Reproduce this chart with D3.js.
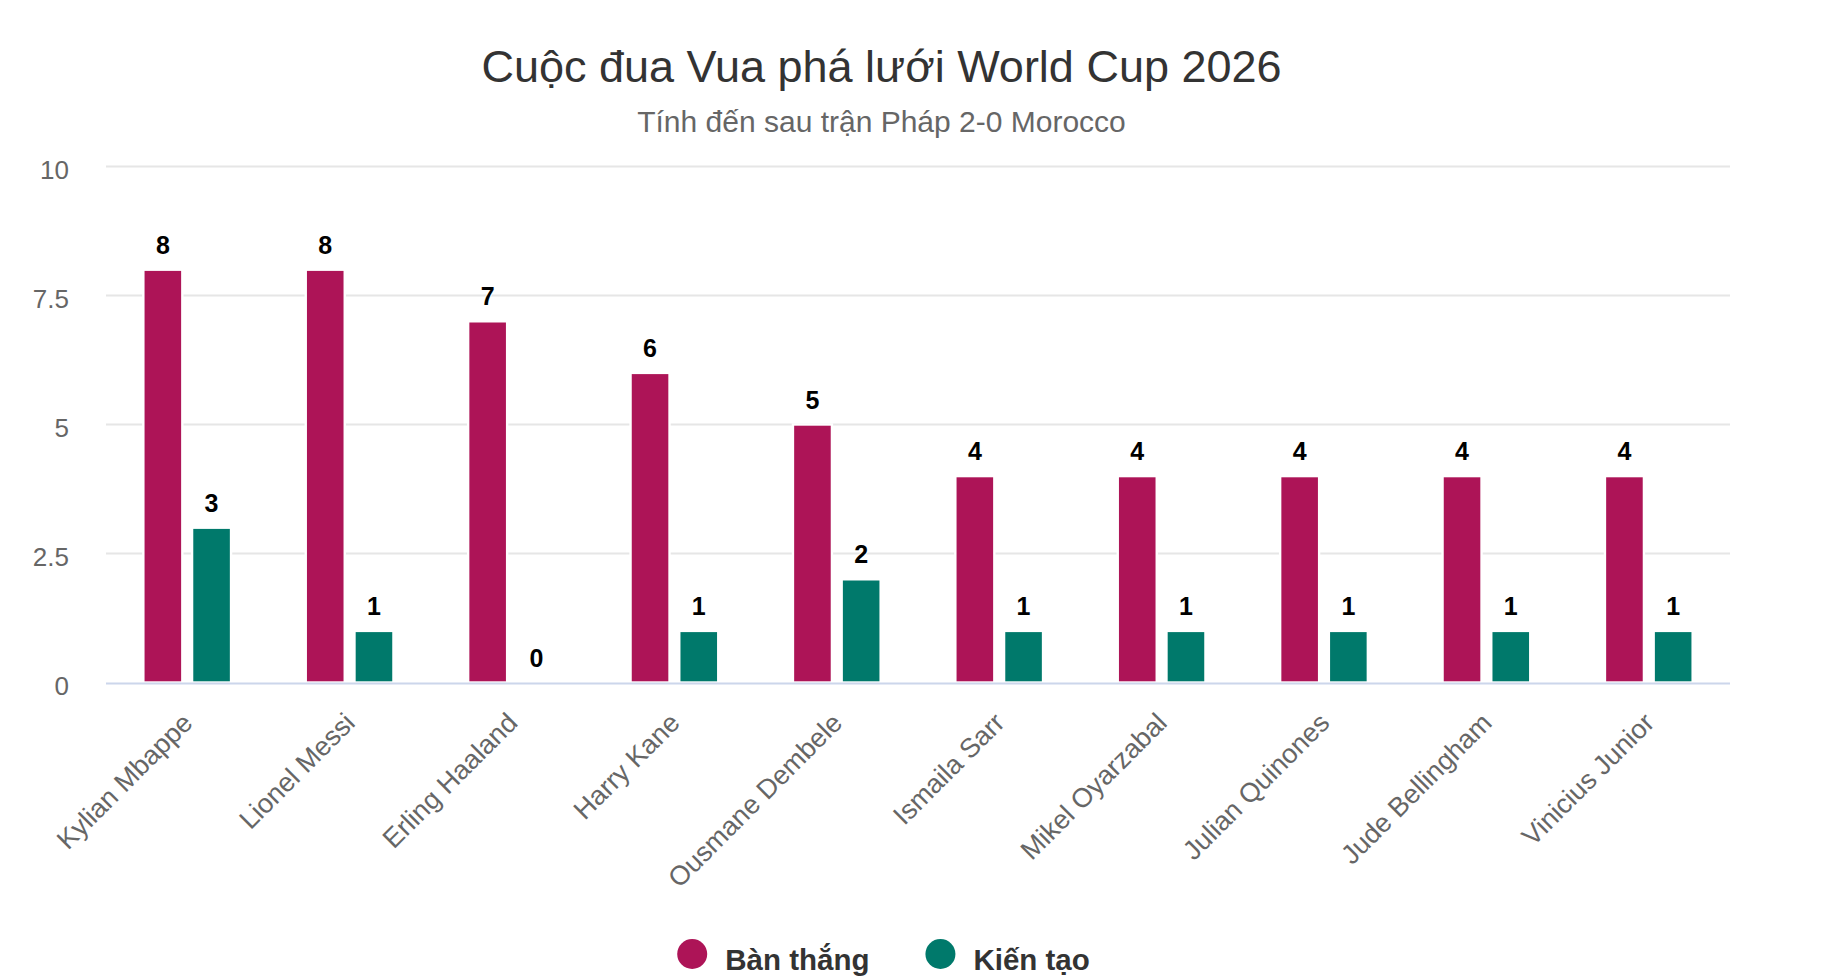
<!DOCTYPE html>
<html>
<head>
<meta charset="utf-8">
<script src="https://cdn.jsdelivr.net/npm/d3@7"></script>
<style>
  html, body { margin: 0; padding: 0; background: #ffffff; }
  svg { display: block; }
  text { font-family: "Liberation Sans", Arial, Helvetica, sans-serif; }
</style>
</head>
<body>
<svg id="chart" width="1835" height="977"></svg>
<script>
const categories = ["Kylian Mbappe", "Lionel Messi", "Erling Haaland", "Harry Kane", "Ousmane Dembele",
                    "Ismaila Sarr", "Mikel Oyarzabal", "Julian Quinones", "Jude Bellingham", "Vinicius Junior"];
const seriesNames = ["Bàn thắng", "Kiến tạo"];
const goals   = [8, 8, 7, 6, 5, 4, 4, 4, 4, 4];
const assists = [3, 1, 0, 1, 2, 1, 1, 1, 1, 1];
const yTicks = [0, 2.5, 5, 7.5, 10];
const yTickLabels = ["0", "2.5", "5", "7.5", "10"];
const colors = ["#AD1457", "#00796B"];
const titleText = "Cuộc đua Vua phá lưới World Cup 2026";
const subtitleText = "Tính đến sau trận Pháp 2-0 Morocco";

const svg = d3.select("#chart");
const W = 1835, H = 977;
const plot = { left: 106, right: 1730, top: 166.5, bottom: 682.5 };
const centerX = 881.5;

svg.append("rect").attr("width", W).attr("height", H).attr("fill", "#ffffff");

// Title & subtitle
svg.append("text").attr("x", centerX).attr("y", 82)
  .attr("text-anchor", "middle").attr("font-size", 45).attr("fill", "#333333")
  .text(titleText);
svg.append("text").attr("x", centerX).attr("y", 131.5)
  .attr("text-anchor", "middle").attr("font-size", 30).attr("fill", "#666666")
  .text(subtitleText);

// Scales
const x0 = d3.scaleBand().domain(categories).range([plot.left, plot.right]).paddingInner(0).paddingOuter(0);
const groupPad = 0.2;
const x1 = d3.scaleBand().domain(seriesNames)
  .range([x0.bandwidth() * groupPad, x0.bandwidth() * (1 - groupPad)])
  .paddingInner(0.2).paddingOuter(0.1);
const y = d3.scaleLinear().domain([0, 10]).range([plot.bottom, plot.top]);

// Gridlines
svg.append("g").selectAll("line").data(yTicks.filter(d => d !== 0)).join("line")
  .attr("x1", plot.left).attr("x2", plot.right)
  .attr("y1", d => y(d)).attr("y2", d => y(d))
  .attr("stroke", "#e6e6e6").attr("stroke-width", 2);

// Y-axis labels
const yAxis = d3.axisLeft(y).tickValues(yTicks).tickFormat((d, i) => yTickLabels[i]).tickSize(0).tickPadding(0);
const yg = svg.append("g").attr("transform", `translate(69,0)`).call(yAxis);
yg.select(".domain").remove();
yg.selectAll("text").attr("font-size", 26).attr("fill", "#666666")
  .attr("font-family", "'Liberation Sans', Arial, sans-serif")
  .attr("dy", null).attr("dominant-baseline", null)
  .attr("y", 12);

// Bars
const seriesData = [goals, assists];
const groups = svg.append("g").selectAll("g").data(categories).join("g")
  .attr("transform", d => `translate(${x0(d)},0)`);

groups.selectAll("rect").data((c, i) => seriesNames.map((s, k) => ({ s, k, v: seriesData[k][i] }))).join("rect")
  .attr("x", d => x1(d.s))
  .attr("width", x1.bandwidth())
  .attr("y", d => y(d.v))
  .attr("height", d => y(0) - y(d.v))
  .attr("fill", d => colors[d.k])
  .attr("stroke", "#ffffff").attr("stroke-width", d => d.v > 0 ? 2.4 : 0);

// X axis line
svg.append("line").attr("x1", plot.left).attr("x2", plot.right)
  .attr("y1", plot.bottom + 1).attr("y2", plot.bottom + 1)
  .attr("stroke", "#ccd6eb").attr("stroke-width", 2);

// Data labels
groups.selectAll("text.dl").data((c, i) => seriesNames.map((s, k) => ({ s, k, v: seriesData[k][i] }))).join("text")
  .attr("class", "dl")
  .attr("x", d => x1(d.s) + x1.bandwidth() / 2)
  .attr("y", d => y(d.v) - 16)
  .attr("text-anchor", "middle").attr("font-size", 25).attr("font-weight", "bold")
  .attr("fill", "#000000")
  .attr("stroke", "#ffffff").attr("stroke-width", 2).attr("paint-order", "stroke")
  .text(d => d.v);

// X labels (rotated)
const xAxis = d3.axisBottom(x0).tickSize(0).tickPadding(0);
const xg = svg.append("g").attr("transform", `translate(0,${plot.bottom})`).call(xAxis);
xg.select(".domain").remove();
xg.selectAll("text")
  .attr("font-size", 27).attr("fill", "#666666")
  .attr("font-family", "'Liberation Sans', Arial, sans-serif")
  .attr("text-anchor", "end")
  .attr("dy", null).attr("y", 0)
  .attr("transform", "translate(7,42) rotate(-45)");

// Legend
const legend = svg.append("g");
const items = legend.selectAll("g").data(seriesNames).join("g");
items.append("circle").attr("r", 15).attr("cx", 15).attr("cy", 954)
  .attr("fill", (d, i) => colors[i]);
items.append("text").attr("x", 48).attr("y", 970)
  .attr("font-size", 29.5).attr("font-weight", "bold").attr("fill", "#333333")
  .text(d => d);
let widths = [];
items.each(function () { widths.push(48 + this.querySelector("text").getComputedTextLength()); });
const itemGap = 56;
const total = widths.reduce((a, b) => a + b, 0) + itemGap * (widths.length - 1);
let cur = centerX + 2 - total / 2;
items.attr("transform", (d, i) => { const t = `translate(${cur},0)`; cur += widths[i] + itemGap; return t; });
</script>
</body>
</html>
